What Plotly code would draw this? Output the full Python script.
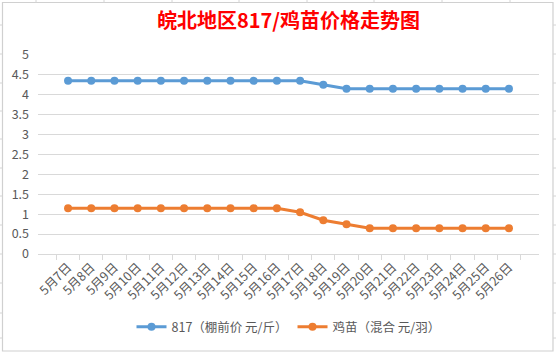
import plotly.graph_objects as go

categories = [f"5月{d}日" for d in range(7, 27)]
price_817 = [4.35]*11 + [4.25] + [4.15]*8
price_chick = [1.15]*10 + [1.05, 0.85, 0.75] + [0.65]*7
name_817 = "817（棚前价 元/斤）"
name_chick = "鸡苗（混合 元/羽）"
title_text = "皖北地区817/鸡苗价格走势图"

W, H = 556, 354
ML, MR, MT, MB = 38, 17, 55, 100
PW, PH = W - ML - MR, H - MT - MB

def px(x):
    return (x - ML) / PW

def py(y):
    return (H - MB - y) / PH

fig = go.Figure()
fig.add_trace(go.Scatter(x=categories, y=price_817, name=name_817, mode="lines+markers",
                         line=dict(color="#5B9BD5", width=3),
                         marker=dict(size=8, color="#5B9BD5")))
fig.add_trace(go.Scatter(x=categories, y=price_chick, name=name_chick, mode="lines+markers",
                         line=dict(color="#ED7D31", width=3),
                         marker=dict(size=8, color="#ED7D31")))

shapes = []
grid_col = "#d4d4d4"
shapes.append(dict(type="rect", xref="paper", yref="paper",
                   x0=px(2.5), x1=px(553), y0=py(2.5), y1=py(351),
                   line=dict(color="#d0d0d0", width=1.2), layer="below"))
for xc in [36, 104, 172, 239, 307, 374, 442, 510]:
    shapes.append(dict(type="line", xref="paper", yref="paper",
                       x0=px(xc), x1=px(xc), y0=py(0), y1=py(2.5),
                       line=dict(color=grid_col, width=1)))
for yr in [25, 54, 83, 111, 139, 168, 196, 225, 254, 283, 313, 338]:
    shapes.append(dict(type="line", xref="paper", yref="paper",
                       x0=px(0), x1=px(2.5), y0=py(yr), y1=py(yr),
                       line=dict(color=grid_col, width=1)))
    shapes.append(dict(type="line", xref="paper", yref="paper",
                       x0=px(553), x1=px(556), y0=py(yr), y1=py(yr),
                       line=dict(color=grid_col, width=1)))

fig.update_layout(
    width=W, height=H,
    margin=dict(l=ML, r=MR, t=MT, b=MB),
    paper_bgcolor="white", plot_bgcolor="white",
    font=dict(family="Noto Sans CJK SC, sans-serif", size=12, color="#595959"),
    title=dict(text=f"<b>{title_text}</b>", x=0.5, xref="paper", xanchor="center",
               y=1 - 21 / H, yanchor="middle",
               font=dict(size=20, color="#FF0000", family="Noto Sans CJK SC")),
    xaxis=dict(type="category", showgrid=False, showline=True, linecolor="#d9d9d9",
               linewidth=1, ticks="outside", tickson="boundaries", ticklen=5,
               tickcolor="#d9d9d9", tickangle=-45,
               tickfont=dict(size=12.5, color="#595959")),
    yaxis=dict(range=[0, 5], dtick=0.5, showgrid=True, gridcolor="#d9d9d9",
               gridwidth=1, zeroline=False, showline=False,
               tickfont=dict(size=12.5, color="#595959"), ticks="",
               ticklabelstandoff=8),
    legend=dict(orientation="h", x=0.5, xanchor="center", y=py(327), yanchor="middle",
                font=dict(size=12.5, color="#595959"), itemwidth=30),
    showlegend=True,
    shapes=shapes,
)

fig.write_html("out.html")
